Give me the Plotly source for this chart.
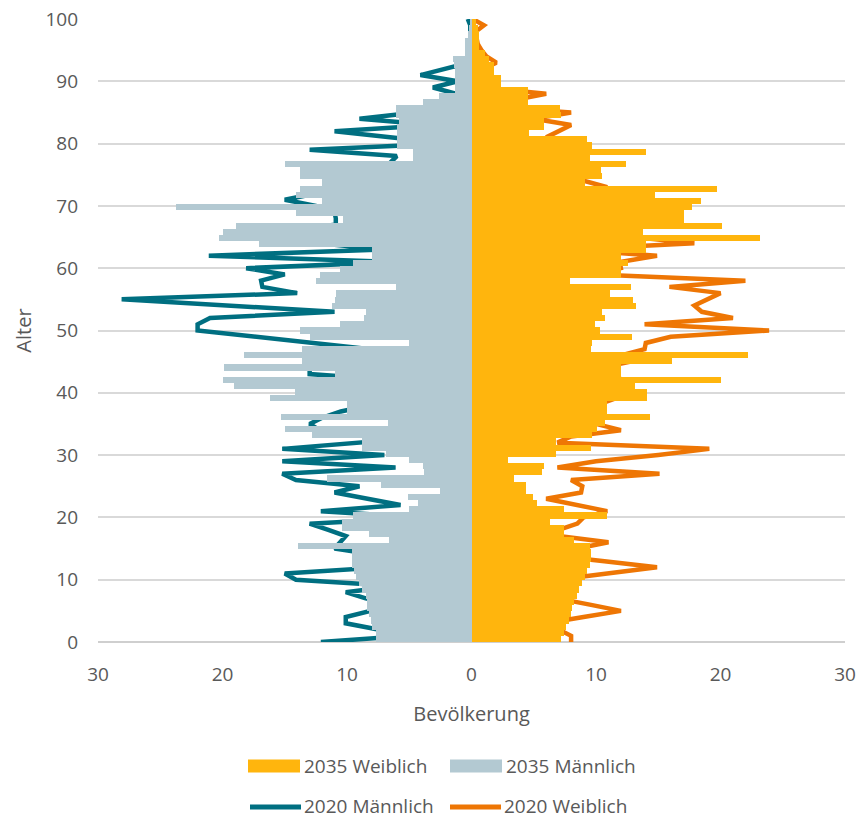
import plotly.graph_objects as go

ages = list(range(0, 101))

# 2035 projection, persons per age year
female_2035 = [7.2, 7.4, 7.6, 7.85, 8.0, 8.1, 8.2, 8.5, 8.6, 8.9,
               9.1, 9.3, 9.5, 9.6, 9.6, 9.5, 8.2, 7.4, 7.4, 6.3,
               10.9, 7.4, 5.3, 4.9, 4.4, 4.4, 3.4, 5.7, 5.8, 2.9,
               6.8, 9.6, 6.8, 9.7, 10.1, 10.7, 14.3, 10.9, 10.9, 14.1,
               14.1, 13.1, 20.0, 12.0, 12.0, 16.1, 22.2, 9.6, 9.7, 12.9,
               10.3, 9.9, 10.7, 10.5, 13.2, 13.0, 11.1, 12.8, 7.9, 12.0,
               12.0, 12.6, 12.0, 14.0, 14.0, 23.2, 13.8, 20.1, 17.1, 17.1,
               17.7, 18.4, 14.7, 19.7, 9.1, 10.5, 10.4, 12.4, 9.5, 14.0,
               9.7, 9.3, 4.6, 5.8, 5.8, 7.2, 7.1, 4.5, 4.5, 4.5,
               2.4, 2.4, 1.8, 1.8, 1.4, 1.1, 0.6, 0.6, 0.6, 0.5,
               0.35]
male_2035 = [7.7, 7.7, 8.0, 8.1, 8.2, 8.4, 8.4, 8.5, 8.8, 9.0,
             9.3, 9.4, 9.6, 9.6, 9.6, 13.9, 6.6, 8.2, 10.4, 10.4,
             9.5, 5.0, 4.3, 5.1, 2.5, 7.3, 11.6, 3.8, 3.9, 5.0,
             6.9, 8.8, 8.8, 12.8, 15.0, 6.7, 15.3, 10.0, 10.0, 16.2,
             14.2, 19.1, 20.0, 11.0, 19.9, 13.6, 18.3, 13.6, 5.0, 13.0,
             13.8, 10.6, 8.6, 8.5, 11.2, 11.0, 10.9, 6.1, 12.5, 12.2,
             10.6, 9.5, 8.0, 8.0, 17.1, 20.3, 20.0, 18.9, 10.3, 14.1,
             23.7, 12.0, 14.1, 13.8, 12.0, 13.8, 13.8, 15.0, 4.7, 4.7,
             6.0, 6.0, 6.0, 6.0, 5.8, 6.1, 6.1, 3.9, 2.6, 1.3,
             1.3, 1.3, 1.3, 1.4, 1.5, 0.5, 0.55, 0.55, 0.3, 0.2,
             0.1]

# 2020 reference year
male_2020 = [12.1, 5.0, 7.5, 10.1, 10.1, 8.0, 6.1, 8.5, 10.1, 6.1,
             14.1, 15.0, 7.0, 7.0, 7.7, 11.0, 10.5, 10.1, 11.5, 13.0,
             3.9, 12.1, 5.7, 8.5, 11.0, 9.0, 14.1, 15.2, 6.1, 15.2,
             7.0, 15.2, 9.0, 3.0, 12.2, 13.0, 12.0, 10.5, 8.1, 9.5,
             11.0, 11.0, 6.1, 13.0, 13.0, 11.0, 12.1, 8.1, 12.8, 17.5,
             22.0, 22.0, 21.0, 11.0, 19.5, 28.1, 14.0, 16.8, 16.9, 15.0,
             18.1, 6.1, 21.1, 7.1, 12.2, 13.0, 14.1, 10.9, 10.9, 11.0,
             12.5, 15.0, 12.5, 10.0, 4.1, 5.0, 5.7, 6.5, 6.0, 13.0,
             1.9, 6.5, 11.0, 3.0, 9.0, 4.5, 0.1, 0.1, 1.2, 3.1,
             1.1, 4.1, 2.0, 0.2, 0.1, 0.1, 0.1, 0.1, 0.1, 0.1,
             0.3]
female_2020 = [8.0, 8.0, 7.0, 6.0, 9.0, 12.0, 9.5, 6.9, 7.4, 8.0,
               6.9, 11.0, 14.9, 10.5, 6.0, 8.5, 11.0, 7.0, 7.0, 8.5,
               9.0, 10.9, 8.5, 6.0, 8.8, 8.9, 8.0, 15.1, 6.9, 10.0,
               15.0, 19.1, 6.9, 8.0, 12.0, 10.0, 8.9, 10.0, 10.0, 11.5,
               12.8, 10.9, 12.9, 8.0, 10.5, 12.8, 12.0, 13.9, 14.0, 16.0,
               23.9, 13.9, 21.0, 18.5, 17.9, 19.0, 20.0, 15.9, 22.0, 10.0,
               12.0, 11.9, 14.9, 7.9, 17.9, 13.1, 12.9, 6.9, 8.8, 9.0,
               10.5, 12.9, 8.9, 10.9, 9.1, 2.9, 5.0, 7.6, 4.0, 6.0,
               7.8, 6.0, 7.0, 8.0, 5.0, 8.0, 0.9, 3.5, 6.0, 0.9,
               0.0, 0.5, 0.9, 2.0, 1.2, 0.8, 0.5, 0.4, 0.35, 1.0,
               0.1]

x_ticks = [-30, -20, -10, 0, 10, 20, 30]
x_tick_text = ["30", "20", "10", "0", "10", "20", "30"]
y_ticks = list(range(0, 101, 10))

C_F35 = "#FFB50D"
C_M35 = "#B3C9D2"
C_M20 = "#006F81"
C_F20 = "#EE7604"
TEXT = "#595959"
FONT = "Open Sans"
FS_TICK = 19
FS_TEXT = 20
FS_LEGEND = 19

# plot area in pixels
L, R, T, B = 98, 845, 19, 642
W, H = 859, 820

fig = go.Figure()

# Projected 2035 structure as back-to-back bars on a category axis
fig.add_trace(go.Bar(
    y=ages, x=female_2035, orientation="h", name="2035 Weiblich",
    marker=dict(color=C_F35, line=dict(width=0)), yaxis="y2",
))
fig.add_trace(go.Bar(
    y=ages, x=[-v for v in male_2035], orientation="h", name="2035 Männlich",
    marker=dict(color=C_M35, line=dict(width=0)), yaxis="y2",
))

# 2020 structure as lines on the value axis
fig.add_trace(go.Scatter(
    y=ages, x=[-v for v in male_2020], mode="lines", name="2020 Männlich",
    line=dict(color=C_M20, width=4.5),
))
fig.add_trace(go.Scatter(
    y=ages, x=female_2020, mode="lines", name="2020 Weiblich",
    line=dict(color=C_F20, width=4.5),
))

fig.update_layout(
    width=W, height=H,
    margin=dict(l=L, r=W - R, t=T, b=H - B, autoexpand=False),
    paper_bgcolor="white", plot_bgcolor="white",
    font=dict(family=FONT, size=FS_TICK, color=TEXT),
    barmode="overlay", bargap=0,
    showlegend=False,
    xaxis=dict(
        range=[-30, 30], tickvals=x_ticks, ticktext=x_tick_text,
        showgrid=False, zeroline=False, showline=False, automargin=False,
        ticks="", ticklabelstandoff=19,
        title=dict(text="Bevölkerung", standoff=20, font=dict(size=FS_TEXT, color=TEXT)),
        tickfont=dict(size=FS_TICK, color=TEXT),
    ),
    yaxis=dict(
        range=[0, 100], tickvals=y_ticks, automargin=False,
        showgrid=True, gridcolor="#D9D9D9", gridwidth=1.5,
        zeroline=False, showline=False, ticks="", ticklabelstandoff=19,
        title=dict(text="Alter", standoff=8, font=dict(size=FS_TEXT, color=TEXT)),
        tickfont=dict(size=FS_TICK, color=TEXT),
    ),
    yaxis2=dict(
        overlaying="y", range=[-0.5, 100.5], visible=False,
        showgrid=False, zeroline=False,
    ),
)

# bottom baseline of the plot area
fig.add_shape(type="line", xref="paper", yref="paper", x0=0, x1=1, y0=0, y1=0,
              line=dict(color="#BFBFBF", width=1.5), layer="below")


def px_x(p):
    return (p - L) / (R - L)


def px_y(p):
    return (B - p) / (B - T)


# Legend: two rows, swatches for the bars and line keys for the 2020 series
legend_rows = [
    [("box", C_F35, "2035 Weiblich", 248), ("box", C_M35, "2035 Männlich", 450)],
    [("line", C_M20, "2020 Männlich", 248), ("line", C_F20, "2020 Weiblich", 448)],
]
row_y = [766, 806]
for row, yc in zip(legend_rows, row_y):
    for kind, color, label, x0 in row:
        if kind == "box":
            fig.add_shape(type="rect", xref="paper", yref="paper",
                          x0=px_x(x0), x1=px_x(x0 + 52),
                          y0=px_y(yc + 6.5), y1=px_y(yc - 6.5),
                          fillcolor=color, line=dict(width=0))
        else:
            fig.add_shape(type="line", xref="paper", yref="paper",
                          x0=px_x(x0 + 2), x1=px_x(x0 + 53),
                          y0=px_y(yc + 1), y1=px_y(yc + 1),
                          line=dict(color=color, width=5))
        fig.add_annotation(text=label, xref="paper", yref="paper",
                           x=px_x(x0 + 55), y=px_y(yc), xanchor="left",
                           yanchor="middle", showarrow=False, borderpad=0,
                           font=dict(size=FS_LEGEND, color=TEXT, family=FONT))

fig.write_html("out.html")
